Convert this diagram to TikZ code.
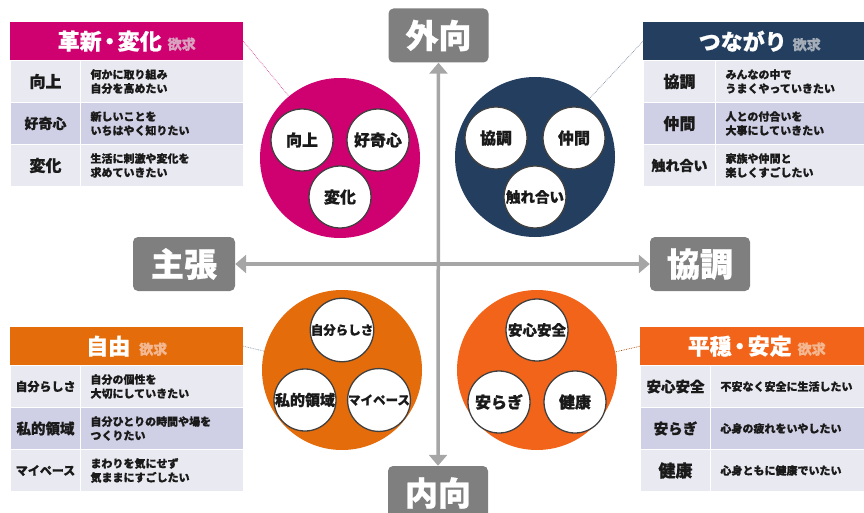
\documentclass[tikz,border=0pt]{standalone}
\usepackage{fontspec}
\setmainfont{Noto Sans CJK JP}[BoldFeatures={FakeBold=0.8}]
\usetikzlibrary{arrows.meta}
\definecolor{magc}{HTML}{CF0070}
\definecolor{navc}{HTML}{233E5F}
\definecolor{orL}{HTML}{E46C0A}
\definecolor{orR}{HTML}{F26419}
\definecolor{axg}{HTML}{7F7F7F}
\definecolor{axl}{HTML}{A6A6A6}
\definecolor{rowA}{HTML}{E9E9F1}
\definecolor{rowB}{HTML}{CFCFE5}
\definecolor{txt}{HTML}{1A1A1A}
\definecolor{smb}{HTML}{404040}
\definecolor{ykM}{HTML}{D9A3C0}
\definecolor{ykN}{HTML}{A5ADB8}
\definecolor{ykO}{HTML}{F3B892}
\newcommand\hfont{\fontsize{22}{22}\selectfont\bfseries}
\newcommand\yfont{\fontsize{14}{14}\selectfont\bfseries}
\newcommand\dfont{\fontsize{11}{14}\selectfont\bfseries}
\newcommand\fsz[1]{\fontsize{#1}{#1}\selectfont\bfseries}
\newcommand\ndot{\kern-3pt・\kern-3pt}
\begin{document}
\begin{tikzpicture}[x=1pt,y=-1pt,
  big/.style={circle, minimum size=160, inner sep=0},
  sm/.style={circle, draw=smb, line width=1.3, fill=white, minimum size=62, inner sep=0, text=txt, font=\fsz{16}},
  axbox/.style={rounded corners=5, fill=axg, text=white, minimum width=100, minimum height=54, inner sep=0, font=\fsz{33}},
  axis/.style={draw=axl, line width=3.5, {Triangle[width=18pt,length=11pt]}-{Triangle[width=18pt,length=11pt]}},
  hdr/.style={anchor=north west, minimum width=233, minimum height=38, inner sep=0, text=white},
  lab/.style={anchor=north west, minimum height=42, inner sep=0, draw=white, line width=1, text=txt},
  desc/.style={anchor=north west, minimum height=42, inner xsep=10, inner ysep=0, align=left, draw=white, line width=1, text=txt, font=\dfont},
  conn/.style={densely dotted, line width=0.7}]
\useasboundingbox (0,0) rectangle (864,513);

% axis boxes
\node[axbox] (up) at (438.5,35.5) {外向};
\node[axbox] (down) at (438,493) {内向};
\node[axbox, minimum width=102] (left) at (184,264) {主張};
\node[axbox] (right) at (700,264) {協調};
\draw[axis] (up.south) -- (down.north);
\draw[axis] (left.east) -- (right.west);

% circles
\node[big, fill=magc] (c1) at (340,158) {};
\node[sm] (c1a) at (302,140) {向上};
\node[sm] (c1b) at (378,140) {好奇心};
\node[sm] (c1c) at (340,197) {変化};

\node[big, fill=navc] (c2) at (535,157) {};
\node[sm] (c2a) at (496,138) {協調};
\node[sm] (c2b) at (574,138) {仲間};
\node[sm, font=\fsz{14.5}] (c2c) at (535,197) {触れ合い};

\node[big, fill=orL] (c3) at (342,370) {};
\node[sm, font=\fsz{12.5}] (c3a) at (342,330) {自分らしさ};
\node[sm, font=\fsz{15}] (c3b) at (305,400) {私的領域};
\node[sm, font=\fsz{12.5}] (c3c) at (379,400) {マイペース};

\node[big, fill=orR] (c4) at (537,370) {};
\node[sm, font=\fsz{14.5}] (c4a) at (537,330) {安心安全};
\node[sm] (c4b) at (499,402) {安らぎ};
\node[sm] (c4c) at (575,402) {健康};

% table top-left
\node[hdr, fill=magc] (t1h) at (10,22) {\hfont 革新\ndot 変化\hspace{6pt}{\yfont\color{ykM}欲求}};
\node[lab, fill=rowA, minimum width=70, font=\fsz{16}] (t1l1) at (10,60) {向上};
\node[desc, fill=rowA, text width=143] (t1d1) at (80,60) {何かに取り組み\\自分を高めたい};
\node[lab, fill=rowB, minimum width=70, font=\fsz{14}] (t1l2) at (10,102) {好奇心};
\node[desc, fill=rowB, text width=143] (t1d2) at (80,102) {新しいことを\\いちはやく知りたい};
\node[lab, fill=rowA, minimum width=70, font=\fsz{16}] (t1l3) at (10,144) {変化};
\node[desc, fill=rowA, text width=143] (t1d3) at (80,144) {生活に刺激や変化を\\求めていきたい};

% table top-right
\node[hdr, fill=navc] (t2h) at (643,22) {\hfont つながり\hspace{6pt}{\yfont\color{ykN}欲求}};
\node[lab, fill=rowA, minimum width=72, font=\fsz{16}] (t2l1) at (643,60) {協調};
\node[desc, fill=rowA, text width=141] (t2d1) at (715,60) {みんなの中で\\うまくやっていきたい};
\node[lab, fill=rowB, minimum width=72, font=\fsz{16}] (t2l2) at (643,102) {仲間};
\node[desc, fill=rowB, text width=141] (t2d2) at (715,102) {人との付合いを\\大事にしていきたい};
\node[lab, fill=rowA, minimum width=72, font=\fsz{14}] (t2l3) at (643,144) {触れ合い};
\node[desc, fill=rowA, text width=141] (t2d3) at (715,144) {家族や仲間と\\楽しくすごしたい};

% table bottom-left
\node[hdr, fill=orL] (t3h) at (10,327) {\hfont 自由\hspace{9pt}{\yfont\color{ykO}欲求}};
\node[lab, fill=rowA, minimum width=70, font=\fsz{12}] (t3l1) at (10,365) {自分らしさ};
\node[desc, fill=rowA, text width=143] (t3d1) at (80,365) {自分の個性を\\大切にしていきたい};
\node[lab, fill=rowB, minimum width=70, font=\fsz{14.5}] (t3l2) at (10,407) {私的領域};
\node[desc, fill=rowB, text width=143] (t3d2) at (80,407) {自分ひとりの時間や場を\\つくりたい};
\node[lab, fill=rowA, minimum width=70, font=\fsz{12}] (t3l3) at (10,449) {マイペース};
\node[desc, fill=rowA, text width=143] (t3d3) at (80,449) {まわりを気にせず\\気ままにすごしたい};

% table bottom-right
\node[hdr, fill=orR] (t4h) at (640,327) {\hfont 平穏\ndot 安定\hspace{6pt}{\yfont\color{ykO}欲求}};
\node[lab, fill=rowA, minimum width=70, font=\fsz{14.5}] (t4l1) at (640,365) {安心安全};
\node[desc, fill=rowA, text width=143] (t4d1) at (710,365) {不安なく安全に生活したい};
\node[lab, fill=rowB, minimum width=70, font=\fsz{14.5}] (t4l2) at (640,407) {安らぎ};
\node[desc, fill=rowB, text width=143] (t4d2) at (710,407) {心身の疲れをいやしたい};
\node[lab, fill=rowA, minimum width=70, font=\fsz{17}] (t4l3) at (640,449) {健康};
\node[desc, fill=rowA, text width=143] (t4d3) at (710,449) {心身ともに健康でいたい};

% connectors
\draw[conn, draw=magc!70] (t1h.east) -- (c1);
\draw[conn, draw=navc!60] (t2h.west) -- (c2);
\draw[conn, draw=navc!60] (t3h.east) -- (c3);
\draw[conn, draw=orL!70!black] (t4h.west) -- (c4);
\end{tikzpicture}
\end{document}
